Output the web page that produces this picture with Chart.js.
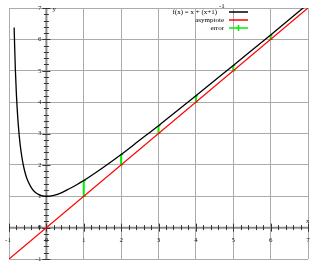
<!DOCTYPE html>
<html>
<head>
<meta charset="utf-8">
<script src="https://cdn.jsdelivr.net/npm/chart.js@4.4.1/dist/chart.umd.min.js"></script>
<style>
  html, body { margin: 0; padding: 0; background: #fff; }
  #wrap { width: 320px; height: 267px; }
</style>
</head>
<body>
<div id="wrap"><canvas id="chart"></canvas></div>
<script>
// f(x) = x + 1/(x+1)
const curveX = [-0.862, -0.85, -0.83, -0.8, -0.78, -0.75, -0.7, -0.65, -0.6, -0.55, -0.5, -0.4, -0.3, -0.2, -0.1, 0, 0.2, 0.4, 0.6, 0.8, 1, 1.5, 2, 2.5, 3, 4, 5, 6, 7];
const curveY = [6.38, 5.82, 5.05, 4.2, 3.77, 3.25, 2.63, 2.21, 1.9, 1.67, 1.5, 1.27, 1.13, 1.05, 1.01, 1.0, 1.03, 1.11, 1.23, 1.36, 1.5, 1.9, 2.33, 2.79, 3.25, 4.2, 5.17, 6.14, 7.13];

// asymptote y = x
const asymX = [-1, 7];
const asymY = [-1, 7];

// error bars between asymptote and curve
const errX = [1, 2, 3, 4, 5, 6];
const errLow = [1, 2, 3, 4, 5, 6];
const errHigh = [1.5, 2.33, 3.25, 4.2, 5.17, 6.14];

const xTicks = [-1, 0, 1, 2, 3, 4, 5, 6, 7];
const yTicks = [-1, 0, 1, 2, 3, 4, 5, 6, 7];
const minorStep = 0.2;

const labelFont = '7px "Liberation Serif", "DejaVu Serif", serif';

const toPts = (xs, ys) => xs.map((v, i) => ({ x: v, y: ys[i] }));

// each error bar is a two point segment, separated by a gap
const errPts = [];
errX.forEach((v, i) => {
    errPts.push({ x: v, y: errLow[i] }, { x: v, y: errHigh[i] }, { x: v, y: null });
});

// axes through the origin, with minor ticks and labels
const centerAxes = {
    id: 'centerAxes',
    beforeDatasetsDraw(chart) {
        const { ctx, chartArea: a, scales: { x, y } } = chart;
        const x0 = x.getPixelForValue(0);
        const y0 = y.getPixelForValue(0);
        ctx.save();
        ctx.strokeStyle = '#8a8a8a';
        ctx.lineWidth = 2;
        ctx.beginPath();
        ctx.moveTo(a.left, y0); ctx.lineTo(a.right, y0);
        ctx.moveTo(x0, a.top); ctx.lineTo(x0, a.bottom);
        ctx.stroke();

        ctx.strokeStyle = '#333';
        ctx.lineWidth = 1;
        ctx.beginPath();
        const nx = Math.round((x.max - x.min) / minorStep);
        for (let i = 0; i <= nx; i++) {
            const v = x.min + i * minorStep;
            const p = Math.round(x.getPixelForValue(v)) + 0.5;
            const len = Math.abs(v - Math.round(v)) < 1e-6 ? 4 : 2.5;
            ctx.moveTo(p, y0 - len); ctx.lineTo(p, y0 + len);
        }
        const ny = Math.round((y.max - y.min) / minorStep);
        for (let i = 0; i <= ny; i++) {
            const v = y.min + i * minorStep;
            const p = Math.round(y.getPixelForValue(v)) + 0.5;
            const len = Math.abs(v - Math.round(v)) < 1e-6 ? 4 : 2.5;
            ctx.moveTo(x0 - len, p); ctx.lineTo(x0 + len, p);
        }
        ctx.stroke();

        ctx.fillStyle = '#222';
        ctx.font = labelFont;
        ctx.textAlign = 'center';
        ctx.textBaseline = 'middle';
        xTicks.forEach(v => {
            ctx.fillText(String(v), x.getPixelForValue(v) - (v < 0 ? 1 : 0), y0 + 13);
        });
        ctx.textAlign = 'right';
        yTicks.forEach(v => {
            ctx.fillText(String(v), x0 - 5, y.getPixelForValue(v));
        });
        ctx.textAlign = 'left';
        ctx.fillText('y', x0 + 6, y.getPixelForValue(y.max) + 1);
        ctx.fillText('x', x.getPixelForValue(x.max) - 2, y0 - 6);
        ctx.restore();
    }
};

// legend: text right aligned, sample line on the right
const sideLegend = {
    id: 'sideLegend',
    afterDatasetsDraw(chart) {
        const { ctx } = chart;
        const rows = [
            { text: 'f(x) = x + (x+1)', sup: '-1', color: '#000' },
            { text: 'asymptote', color: '#ff0000' },
            { text: 'error', color: '#00ee00', tick: true }
        ];
        ctx.save();
        ctx.font = labelFont;
        ctx.textBaseline = 'middle';
        ctx.textAlign = 'left';
        rows.forEach((r, i) => {
            const ty = 12 + i * 8;
            const right = r.sup ? 217 : 224;
            const w = ctx.measureText(r.text).width;
            ctx.fillStyle = '#000';
            ctx.fillText(r.text, right - w, ty);
            if (r.sup) {
                ctx.fillText(r.sup, right + 2, ty - 6);
            }
            ctx.strokeStyle = r.color;
            ctx.lineWidth = 1.5;
            ctx.beginPath();
            ctx.moveTo(229, ty); ctx.lineTo(248, ty);
            if (r.tick) { ctx.moveTo(238.5, ty - 3); ctx.lineTo(238.5, ty + 3); }
            ctx.stroke();
        });
        ctx.restore();
    }
};

new Chart(document.getElementById('chart'), {
    type: 'scatter',
    data: {
        datasets: [
            {
                label: 'asymptote',
                data: toPts(asymX, asymY),
                showLine: true,
                borderColor: '#ff0000',
                borderWidth: 1.3,
                pointRadius: 0
            },
            {
                label: 'f(x) = x + (x+1)^-1',
                data: toPts(curveX, curveY),
                showLine: true,
                borderColor: '#000',
                borderWidth: 1.3,
                pointRadius: 0,
                cubicInterpolationMode: 'monotone'
            },
            {
                label: 'error',
                data: errPts,
                showLine: true,
                spanGaps: false,
                borderColor: '#00ee00',
                borderWidth: 2,
                pointStyle: 'dash',
                pointRadius: 2,
                pointBorderColor: '#00aa00',
                pointBorderWidth: 1
            }
        ]
    },
    options: {
        responsive: true,
        maintainAspectRatio: false,
        animation: false,
        layout: { padding: { left: 9, right: 12, top: 8, bottom: 8 } },
        plugins: {
            legend: { display: false },
            tooltip: { enabled: false }
        },
        scales: {
            x: {
                type: 'linear',
                min: -1, max: 7,
                ticks: { display: false, stepSize: 1 },
                grid: { color: '#ababab', lineWidth: 1, drawTicks: false },
                border: { display: false }
            },
            y: {
                type: 'linear',
                min: -1, max: 7,
                ticks: { display: false, stepSize: 1 },
                grid: { color: '#ababab', lineWidth: 1, drawTicks: false },
                border: { display: false }
            }
        }
    },
    plugins: [centerAxes, sideLegend]
});
</script>
</body>
</html>
